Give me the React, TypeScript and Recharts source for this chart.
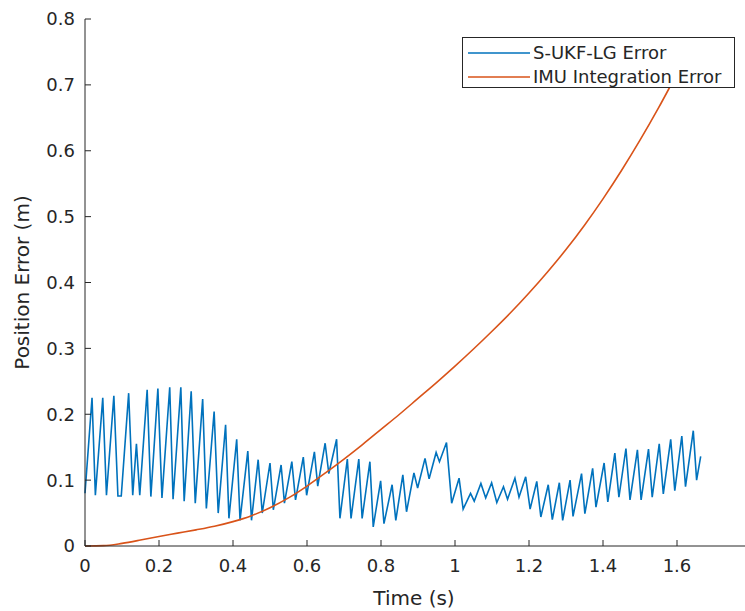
import React from 'react'
import { Legend, Line, LineChart, XAxis, YAxis } from 'recharts'

// S-UKF-LG position error (zig-zag from the filter corrections)
const ukfTime = [
  0, 0.019, 0.028, 0.048, 0.058, 0.078, 0.089, 0.098, 0.118, 0.129, 0.139, 0.148,
  0.168, 0.178, 0.197, 0.208, 0.229, 0.238, 0.259, 0.268, 0.287, 0.298, 0.318, 0.328,
  0.349, 0.36, 0.38, 0.389, 0.41, 0.419, 0.44, 0.45, 0.468, 0.479, 0.5, 0.509,
  0.53, 0.539, 0.559, 0.569, 0.59, 0.599, 0.62, 0.629, 0.649, 0.659, 0.68, 0.689,
  0.709, 0.719, 0.74, 0.749, 0.77, 0.779, 0.799, 0.808, 0.83, 0.84, 0.859, 0.869,
  0.889, 0.899, 0.919, 0.93, 0.949, 0.958, 0.977, 0.991, 1.011, 1.022, 1.042, 1.052,
  1.07, 1.083, 1.099, 1.113, 1.131, 1.142, 1.162, 1.173, 1.191, 1.203, 1.221, 1.232,
  1.252, 1.263, 1.282, 1.291, 1.311, 1.319, 1.342, 1.351, 1.372, 1.381, 1.403, 1.413,
  1.432, 1.443, 1.462, 1.473, 1.493, 1.503, 1.523, 1.533, 1.552, 1.563, 1.583, 1.594,
  1.613, 1.623, 1.644, 1.653, 1.664,
]
const ukfError = [
  0.08, 0.225, 0.077, 0.225, 0.077, 0.228, 0.076, 0.076, 0.232, 0.077, 0.155, 0.077,
  0.237, 0.075, 0.239, 0.073, 0.241, 0.071, 0.241, 0.068, 0.235, 0.065, 0.223, 0.057,
  0.204, 0.05, 0.184, 0.042, 0.162, 0.039, 0.144, 0.039, 0.131, 0.05, 0.126, 0.055,
  0.123, 0.065, 0.128, 0.07, 0.135, 0.077, 0.143, 0.091, 0.156, 0.11, 0.162, 0.042,
  0.132, 0.042, 0.132, 0.042, 0.128, 0.029, 0.099, 0.034, 0.093, 0.039, 0.108, 0.052,
  0.111, 0.088, 0.133, 0.102, 0.142, 0.128, 0.157, 0.065, 0.103, 0.056, 0.08, 0.068,
  0.095, 0.073, 0.096, 0.066, 0.09, 0.071, 0.103, 0.074, 0.105, 0.056, 0.098, 0.044,
  0.093, 0.04, 0.096, 0.039, 0.1, 0.045, 0.11, 0.049, 0.118, 0.059, 0.126, 0.067,
  0.141, 0.074, 0.148, 0.07, 0.146, 0.07, 0.147, 0.074, 0.155, 0.079, 0.162, 0.084,
  0.167, 0.09, 0.175, 0.1, 0.136,
]

// dead-reckoning (IMU only) error, grows roughly quadratically
const imuTime = [
  0, 0.05, 0.1, 0.15, 0.2, 0.25, 0.3, 0.35, 0.4, 0.45, 0.5, 0.55, 0.6, 0.65,
  0.7, 0.75, 0.8, 0.85, 0.9, 0.95, 1.0, 1.05, 1.1, 1.15, 1.2, 1.25, 1.3, 1.35,
  1.4, 1.45, 1.5, 1.55, 1.6, 1.65,
]
const imuError = [
  0, 0.0005, 0.004, 0.009, 0.0145, 0.0195, 0.0245, 0.03, 0.037, 0.046, 0.058, 0.073,
  0.091, 0.111, 0.132, 0.154, 0.177, 0.2, 0.224, 0.248, 0.273, 0.299, 0.326, 0.354,
  0.384, 0.416, 0.45, 0.487, 0.527, 0.57, 0.616, 0.665, 0.717, 0.768,
]

const timeTicks = [0, 0.2, 0.4, 0.6, 0.8, 1, 1.2, 1.4, 1.6]
const errorTicks = [0, 0.1, 0.2, 0.3, 0.4, 0.5, 0.6, 0.7, 0.8]

const ukfData = ukfTime.map((t, i) => ({ t, err: ukfError[i] }))
const imuData = imuTime.map((t, i) => ({ t, err: imuError[i] }))

const BLUE = '#0072BD'
const ORANGE = '#D95319'
const AXIS = '#262626'
const FONT = '"DejaVu Sans", sans-serif'

const legendRows = [
  { label: 'S-UKF-LG Error', color: BLUE },
  { label: 'IMU Integration Error', color: ORANGE },
]

function LegendBox() {
  return (
    <div
      style={{
        boxSizing: 'border-box',
        width: 273,
        height: 51,
        border: `1px solid ${AXIS}`,
        background: '#fff',
        padding: '3px 0 0 5px',
        fontFamily: FONT,
        fontSize: 18,
        color: AXIS,
        lineHeight: '24px',
        overflow: 'hidden',
      }}
    >
      {legendRows.map((r) => (
        <div key={r.label} style={{ display: 'flex', alignItems: 'center', whiteSpace: 'nowrap' }}>
          <svg width={62} height={10} style={{ flex: 'none' }}>
            <line x1={0} x2={62} y1={5} y2={5} stroke={r.color} strokeWidth={1.5} />
          </svg>
          <span style={{ marginLeft: 3 }}>{r.label}</span>
        </div>
      ))}
    </div>
  )
}

function YTitle(props: any) {
  const vb = props.viewBox || { x: 0, y: 19, width: 85, height: 527 }
  const cx = vb.x + 22
  const cy = vb.y + vb.height / 2
  return (
    <text
      x={cx}
      y={cy}
      transform={`rotate(-90 ${cx} ${cy})`}
      textAnchor="middle"
      dominantBaseline="central"
      fontSize={20}
      fill={AXIS}
      fontFamily={FONT}
    >
      Position Error (m)
    </text>
  )
}

export default function App() {
  return (
    <div
      style={{
        position: 'absolute',
        left: 0,
        top: 0,
        width: 745,
        height: 611,
        overflow: 'hidden',
        background: '#fff',
      }}
    >
      <LineChart
        width={760}
        height={611}
        margin={{ top: 19, right: 9, bottom: 0, left: 0 }}
        style={{ fontFamily: FONT }}
      >
        <XAxis
          type="number"
          dataKey="t"
          domain={[0, 1.8]}
          ticks={timeTicks}
          interval={0}
          height={65}
          tickSize={-6}
          tickMargin={19}
          tick={{ fontSize: 18, fill: AXIS, fontFamily: FONT }}
          axisLine={{ stroke: AXIS }}
          tickLine={{ stroke: AXIS }}
          label={{
            value: 'Time (s)',
            position: 'insideBottom',
            offset: 6,
            dx: -4,
            fontSize: 20,
            fill: AXIS,
            fontFamily: FONT,
          }}
        />
        <YAxis
          type="number"
          dataKey="err"
          domain={[0, 0.8]}
          ticks={errorTicks}
          interval={0}
          width={85}
          tickSize={-6}
          tickMargin={16}
          tick={{ fontSize: 18, fill: AXIS, fontFamily: FONT }}
          axisLine={{ stroke: AXIS }}
          tickLine={{ stroke: AXIS }}
          label={YTitle}
        />
        <Line
          data={ukfData}
          dataKey="err"
          type="linear"
          stroke={BLUE}
          strokeWidth={1.6}
          dot={false}
          isAnimationActive={false}
        />
        <Line
          data={imuData}
          dataKey="err"
          type="monotone"
          stroke={ORANGE}
          strokeWidth={1.6}
          dot={false}
          isAnimationActive={false}
        />
        <Legend
          layout="horizontal"
          align="center"
          verticalAlign="middle"
          content={LegendBox}
          wrapperStyle={{ left: 462, top: 37, width: 273, height: 'auto', zIndex: 10 }}
        />
      </LineChart>
    </div>
  )
}
